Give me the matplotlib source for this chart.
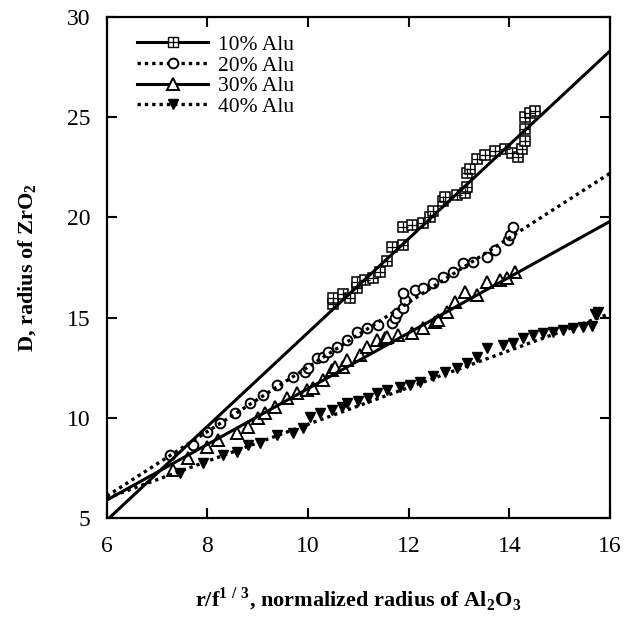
import numpy as np
import matplotlib
matplotlib.use("Agg")
import matplotlib.pyplot as plt
from matplotlib.lines import Line2D

plt.rcParams['font.family'] = ['Liberation Serif', 'DejaVu Serif']
plt.rcParams['mathtext.fontset'] = 'custom'
plt.rcParams['mathtext.rm'] = 'Liberation Serif'
plt.rcParams['mathtext.bf'] = 'Liberation Serif:bold'

# --- data ---
sq_x = [10.49, 10.49, 10.69, 10.83, 10.97, 10.97, 11.13, 11.29, 11.43, 11.57, 11.67, 11.88,
        11.88, 12.06, 12.28, 12.42, 12.48, 12.68, 12.72, 12.96, 13.12, 13.16, 13.16, 13.22,
        13.36, 13.51, 13.71, 13.91, 14.05, 14.17, 14.25, 14.31, 14.31, 14.31, 14.41, 14.5]
sq_y = [15.7, 16.0, 16.2, 16.0, 16.5, 16.8, 16.9, 17.0, 17.3, 17.8, 18.5, 18.6,
        19.5, 19.6, 19.7, 20.0, 20.3, 20.8, 21.0, 21.1, 21.2, 21.5, 22.2, 22.4,
        22.9, 23.1, 23.3, 23.4, 23.2, 23.0, 23.4, 23.8, 24.4, 25.0, 25.2, 25.3]

ci_x = [7.25, 7.71, 8.0, 8.25, 8.54, 8.84, 9.1, 9.38, 9.7, 9.94, 10.0, 10.17, 10.29, 10.39,
        10.57, 10.77, 10.97, 11.17, 11.39, 11.67, 11.73, 11.77, 11.88, 11.92, 11.88, 12.12,
        12.28, 12.48, 12.68, 12.88, 13.08, 13.28, 13.55, 13.71, 13.97, 14.01, 14.07]
ci_y = [8.14, 8.64, 9.3, 9.74, 10.24, 10.74, 11.14, 11.64, 12.04, 12.29, 12.49, 12.98, 13.03, 13.28,
        13.53, 13.88, 14.28, 14.48, 14.63, 14.73, 14.98, 15.23, 15.48, 15.88, 16.23, 16.38,
        16.5, 16.73, 17.03, 17.27, 17.72, 17.77, 18.02, 18.37, 18.87, 19.12, 19.5]

tr_x = [7.31, 7.61, 7.99, 8.21, 8.58, 8.8, 9.0, 9.14, 9.34, 9.58, 9.78, 9.98, 10.1, 10.29,
        10.47, 10.53, 10.69, 10.77, 11.03, 11.17, 11.37, 11.53, 11.57, 11.79, 12.06, 12.28,
        12.52, 12.58, 12.76, 12.92, 13.12, 13.36, 13.55, 13.81, 13.95, 14.11]
tr_y = [7.4, 8.0, 8.54, 8.89, 9.24, 9.54, 9.99, 10.24, 10.54, 10.99, 11.24, 11.39, 11.49, 11.89,
        12.39, 12.54, 12.54, 12.89, 13.13, 13.53, 13.88, 13.98, 14.03, 14.13, 14.23, 14.48,
        14.78, 14.88, 15.28, 15.8, 16.28, 16.13, 16.78, 16.88, 16.98, 17.3]

dt_x = [7.45, 7.91, 8.31, 8.58, 8.8, 9.04, 9.38, 9.7, 9.9, 10.04, 10.23, 10.47, 10.67, 10.77,
        11.0, 11.2, 11.37, 11.57, 11.83, 12.02, 12.22, 12.48, 12.72, 12.96, 13.16, 13.36,
        13.55, 13.87, 14.07, 14.27, 14.47, 14.67, 14.87, 15.07, 15.26, 15.46, 15.64, 15.7, 15.76]
dt_y = [7.25, 7.75, 8.14, 8.29, 8.64, 8.74, 9.14, 9.24, 9.49, 10.04, 10.24, 10.39, 10.54, 10.74,
        10.85, 11.0, 11.24, 11.39, 11.54, 11.64, 11.79, 12.1, 12.29, 12.49, 12.74, 13.03,
        13.48, 13.63, 13.73, 13.98, 14.13, 14.23, 14.28, 14.38, 14.48, 14.53, 14.6, 15.2, 15.3]

# fitted lines (end points)
fit_x = [6, 16]
fit10_y = [4.9, 28.3]
fit20_y = [6.1, 22.2]
fit30_y = [5.9, 19.8]
fit40_y = [6.0, 15.2]

labels = ['10% Alu', '20% Alu', '30% Alu', '40% Alu']

fig = plt.figure(figsize=(6.25, 6.25), dpi=100)
ax = fig.add_axes([0.171, 0.171, 0.805, 0.802])

dot = (0, (1, 1.2))
solid_lw = 2.2
dot_lw = 2.4

# markers
ax.plot(sq_x, sq_y, 's', ms=7, mfc='white', mec='black', mew=1.1, ls='none')
ax.plot(sq_x, sq_y, '+', ms=7, mec='black', mew=0.9, ls='none')
ax.plot(ci_x, ci_y, 'o', ms=7, mfc='white', mec='black', mew=1.4, ls='none')
ax.plot(tr_x, tr_y, '^', ms=8, mfc='white', mec='black', mew=1.4, ls='none')
ax.plot(dt_x, dt_y, 'v', ms=7.5, mfc='black', mec='black', ls='none')

# fit lines
ax.plot(fit_x, fit10_y, '-', color='black', lw=solid_lw)
ax.plot(fit_x, fit20_y, ls=dot, color='black', lw=dot_lw)
ax.plot(fit_x, fit30_y, '-', color='black', lw=solid_lw)
ax.plot(fit_x, fit40_y, ls=dot, color='black', lw=dot_lw)

ax.set_xlim(6, 16)
ax.set_ylim(5, 30)
ax.set_xticks([6, 8, 10, 12, 14, 16])
ax.set_yticks([5, 10, 15, 20, 25, 30])
ax.tick_params(direction='in', length=7, width=1.5, labelsize=17,
               top=True, right=True)
ax.tick_params(axis='x', pad=13)
ax.tick_params(axis='y', pad=12)
for s in ax.spines.values():
    s.set_linewidth(1.6)

ax.set_xlabel(r'r/f$^\mathbf{1\ /\ 3}$, normalized radius of Al$_\mathbf{2}$O$_\mathbf{3}$',
              fontsize=16, fontweight='bold', labelpad=20)
ax.set_ylabel(r'D, radius of ZrO$_\mathbf{2}$', fontsize=16, fontweight='bold', labelpad=20)

# legend
h1 = (Line2D([], [], color='black', lw=solid_lw, marker='s', ms=7, mfc='white', mec='black'),
      Line2D([], [], ls='none', marker='+', ms=7, mec='black', mew=0.9))
h2 = Line2D([], [], color='black', ls=dot, lw=dot_lw, marker='o', ms=7, mfc='white', mec='black', mew=1.4)
h3 = Line2D([], [], color='black', lw=solid_lw, marker='^', ms=8, mfc='white', mec='black', mew=1.4)
h4 = Line2D([], [], color='black', ls=dot, lw=dot_lw, marker='v', ms=7.5, mfc='black', mec='black')
ax.legend([h1, h2, h3, h4], labels, loc='upper left', frameon=False, fontsize=15.5,
          handlelength=3.3, handletextpad=0.45, labelspacing=0.03,
          bbox_to_anchor=(0.035, 0.99), borderaxespad=0.2)

fig.savefig('out.png', dpi=100)
